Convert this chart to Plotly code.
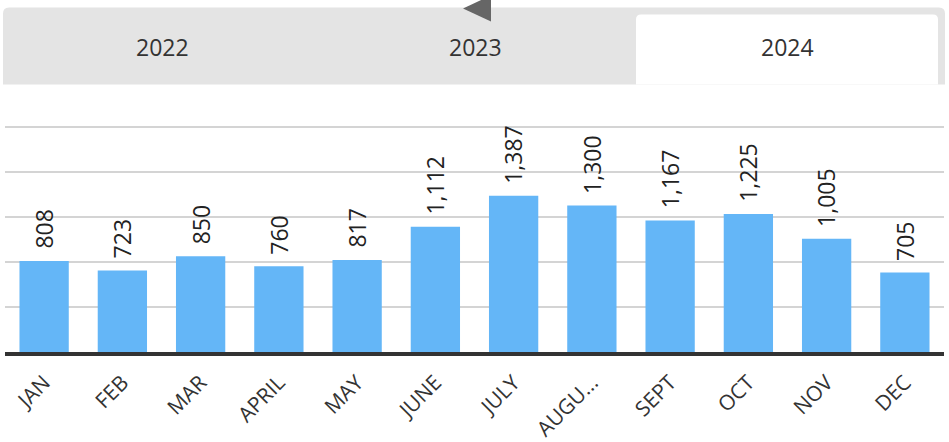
import plotly.graph_objects as go

months = ["JAN", "FEB", "MAR", "APRIL", "MAY", "JUNE", "JULY", "AUGUST", "SEPT", "OCT", "NOV", "DEC"]
tick_labels = ["JAN", "FEB", "MAR", "APRIL", "MAY", "JUNE", "JULY", "AUGU...", "SEPT", "OCT", "NOV", "DEC"]
values = [808, 723, 850, 760, 817, 1112, 1387, 1300, 1167, 1225, 1005, 705]
tabs = ["2022", "2023", "2024"]
grid_vals = [400, 800, 1200, 1600, 2000]
y_max = 2050

W, H = 949, 442
L, R, B = 5, 5, 90
BOTTOM_PX = H - B
T = BOTTOM_PX - 225 * y_max / 2000
PW, PH = W - L - R, H - T - B
FONT = "Open Sans"


def px(x):
    return (x - L) / PW


def py(y):
    return (H - B - y) / PH


def rounded_top(x0, y0, x1, y1, r):
    return (f"M {px(x0)},{py(y1)} L {px(x0)},{py(y0 + r)} "
            f"Q {px(x0)},{py(y0)} {px(x0 + r)},{py(y0)} "
            f"L {px(x1 - r)},{py(y0)} Q {px(x1)},{py(y0)} {px(x1)},{py(y0 + r)} "
            f"L {px(x1)},{py(y1)} Z")


fig = go.Figure(go.Bar(
    x=months, y=values,
    marker=dict(color="#64b6f7", line=dict(width=0)),
    cliponaxis=False,
    hoverinfo="skip",
))

shapes = [
    dict(type="path", xref="paper", yref="paper", path=rounded_top(3, 8, 945, 85, 6),
         fillcolor="#e4e4e4", line=dict(width=0), layer="above"),
    dict(type="path", xref="paper", yref="paper", path=rounded_top(636, 15, 938, 85, 5),
         fillcolor="#ffffff", line=dict(width=0), layer="above"),
    dict(type="path", xref="paper", yref="paper",
         path=f"M {px(463)},{py(9)} L {px(491)},{py(-4)} L {px(491)},{py(22)} Z",
         fillcolor="#666666", line=dict(width=0), layer="above"),
]

tab_centers = [162, 475, 787]
annotations = [
    dict(x=px(cx), y=py(47), xref="paper", yref="paper", text=t, showarrow=False,
         xanchor="center", yanchor="middle",
         font=dict(family=FONT, size=23, color="#333333"))
    for cx, t in zip(tab_centers, tabs)
]
annotations += [
    dict(x=m, y=v, xref="x", yref="y", text=f"{v:,}", showarrow=False,
         textangle=-90, xanchor="center", yanchor="bottom", yshift=10,
         font=dict(family=FONT, size=23, color="#222222"))
    for m, v in zip(months, values)
]

fig.update_layout(
    width=W, height=H,
    margin=dict(l=L, r=R, t=T, b=B, autoexpand=False),
    paper_bgcolor="white", plot_bgcolor="white",
    showlegend=False,
    bargap=0.37,
    shapes=shapes,
    annotations=annotations,
    font=dict(family=FONT, color="#333333"),
    xaxis=dict(
        tickmode="array", tickvals=months, ticktext=tick_labels,
        tickangle=-45, tickfont=dict(family=FONT, size=21, color="#333333"),
        showline=True, linecolor="#333333", linewidth=4,
        showgrid=False, ticks="", ticklabelstandoff=6, fixedrange=True,
        automargin=False,
    ),
    yaxis=dict(
        range=[0, y_max], tickmode="array", tickvals=grid_vals,
        showticklabels=False,
        showgrid=True, gridcolor="#d4d4d4", gridwidth=2,
        zeroline=False, showline=False, fixedrange=True,
        automargin=False,
    ),
)

fig.write_html("out.html", config={"displayModeBar": False},
               post_script="document.body.style.margin='0';document.body.style.padding='0';")
